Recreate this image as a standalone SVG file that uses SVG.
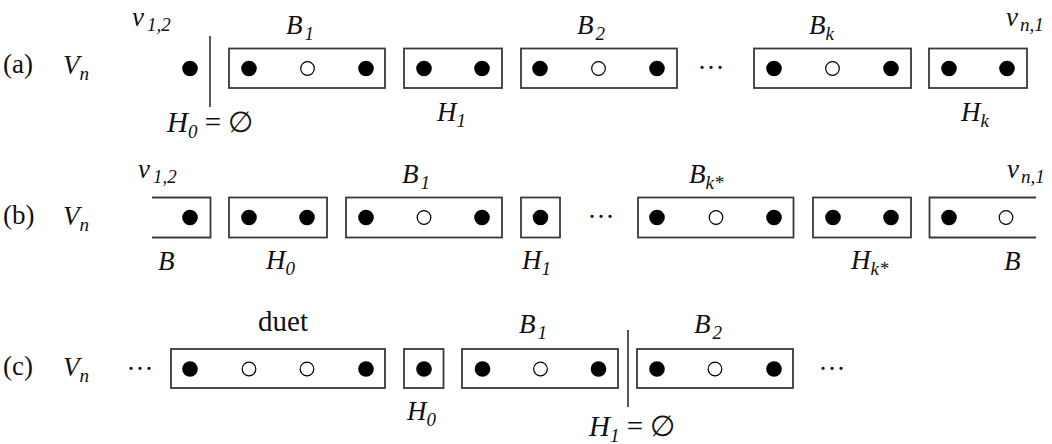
<svg xmlns="http://www.w3.org/2000/svg" width="1052" height="444" viewBox="0 0 1052 444">
<style>
.bx{fill:none;stroke:#3a3a3a;stroke-width:1.8}
.ln{fill:none;stroke:#444;stroke-width:1.8}
.f{fill:#000}
.o{fill:#fff;stroke:#000;stroke-width:1.2}
text{font-family:"Liberation Serif","DejaVu Serif",serif;font-size:27px;fill:#111}
.i{font-style:italic}
.s{font-size:19px;font-style:italic}
.u{font-style:normal}
.big{font-size:29px}
</style>
<rect width="1052" height="444" fill="#fff"/>
<g id="rowA">
  <text x="3" y="73">(a)</text>
  <text x="63" y="74" class="i">V<tspan class="s" dy="6">n</tspan></text>
  <g id="a-v12"><text x="132" y="26" class="i">v<tspan class="s" dx="3" dy="5">1,2</tspan></text><circle class="f" cx="190" cy="68.5" r="7.8"/></g>
  <g id="a-B1"><rect class="bx" x="229" y="48.5" width="156" height="39.5"/><circle class="f" cx="249" cy="68.5" r="7.8"/><circle class="o" cx="307.5" cy="68.5" r="6.8"/><circle class="f" cx="366" cy="68.5" r="7.8"/><text x="286" y="34" class="i">B<tspan class="s" dx="2" dy="6">1</tspan></text></g>
  <g id="a-H1"><rect class="bx" x="404" y="48.5" width="98" height="39.5"/><circle class="f" cx="424" cy="68.5" r="7.8"/><circle class="f" cx="482" cy="68.5" r="7.8"/><text x="437" y="121" class="i">H<tspan class="s" dy="6">1</tspan></text></g>
  <g id="a-B2"><rect class="bx" x="521" y="48.5" width="156" height="39.5"/><circle class="f" cx="540" cy="68.5" r="7.8"/><circle class="o" cx="598.5" cy="68.5" r="6.8"/><circle class="f" cx="657" cy="68.5" r="7.8"/><text x="577" y="34" class="i">B<tspan class="s" dx="2" dy="6">2</tspan></text></g>
  <text x="711" y="77" text-anchor="middle">···</text>
  <g id="a-Bk"><rect class="bx" x="754" y="48.5" width="157" height="39.5"/><circle class="f" cx="774" cy="68.5" r="7.8"/><circle class="o" cx="832.5" cy="68.5" r="6.8"/><circle class="f" cx="891" cy="68.5" r="7.8"/><text x="809" y="34" class="i">B<tspan class="s" dy="6">k</tspan></text></g>
  <g id="a-Hk"><rect class="bx" x="929" y="48.5" width="98" height="39.5"/><circle class="f" cx="949" cy="68.5" r="7.8"/><circle class="f" cx="1007" cy="68.5" r="7.8"/><text x="961" y="121" class="i">H<tspan class="s" dy="6">k</tspan></text><text x="1006" y="26" class="i">v<tspan class="s" dx="2" dy="5">n,1</tspan></text></g>
  <g id="a-H0"><text x="167" y="132" class="i big">H<tspan class="s" dy="6">0</tspan><tspan class="u" dy="-6"> = </tspan><tspan class="u">∅</tspan></text></g>
</g>
<g id="rowB">
  <text x="3" y="224">(b)</text>
  <text x="63" y="225" class="i">V<tspan class="s" dy="6">n</tspan></text>
  <g id="b-Bleft"><path class="bx" d="M152,197.5 H210.5 V237.5 H152"/><circle class="f" cx="190" cy="217.5" r="7.8"/><text x="138" y="178" class="i">v<tspan class="s" dx="3" dy="5">1,2</tspan></text><text x="158" y="270" class="i">B</text></g>
  <g id="b-H0"><rect class="bx" x="229" y="197.5" width="98" height="40"/><circle class="f" cx="249" cy="217.5" r="7.8"/><circle class="f" cx="307" cy="217.5" r="7.8"/><text x="266" y="269" class="i">H<tspan class="s" dy="6">0</tspan></text></g>
  <g id="b-B1"><rect class="bx" x="346" y="197.5" width="156" height="40"/><circle class="f" cx="366" cy="217.5" r="7.8"/><circle class="o" cx="424" cy="217.5" r="6.8"/><circle class="f" cx="482" cy="217.5" r="7.8"/><text x="402" y="183" class="i">B<tspan class="s" dx="2" dy="6">1</tspan></text></g>
  <g id="b-H1"><rect class="bx" x="521" y="197.5" width="39" height="40"/><circle class="f" cx="540.5" cy="217.5" r="7.8"/><text x="522" y="269" class="i">H<tspan class="s" dy="6">1</tspan></text></g>
  <text x="601" y="226" text-anchor="middle">···</text>
  <g id="b-Bk"><rect class="bx" x="638" y="197.5" width="155.5" height="40"/><circle class="f" cx="657" cy="217.5" r="7.8"/><circle class="o" cx="716" cy="217.5" r="6.8"/><circle class="f" cx="774" cy="217.5" r="7.8"/><text x="689" y="183" class="i">B<tspan class="s" dy="6">k*</tspan></text></g>
  <g id="b-Hk"><rect class="bx" x="813" y="197.5" width="98" height="40"/><circle class="f" cx="833" cy="217.5" r="7.8"/><circle class="f" cx="891" cy="217.5" r="7.8"/><text x="851" y="269" class="i">H<tspan class="s" dy="6">k*</tspan></text></g>
  <g id="b-Bright"><path class="bx" d="M1036,197.5 H929.5 V237.5 H1036"/><circle class="f" cx="949" cy="217.5" r="7.8"/><circle class="o" cx="1006" cy="217.5" r="6.8"/><text x="1007" y="178" class="i">v<tspan class="s" dx="2" dy="5">n,1</tspan></text><text x="1004" y="270" class="i">B</text></g>
</g>
<g id="rowC">
  <text x="3" y="375">(c)</text>
  <text x="63" y="376" class="i">V<tspan class="s" dy="6">n</tspan></text>
  <text x="140" y="378" text-anchor="middle">···</text>
  <g id="c-duet"><rect class="bx" x="171" y="349" width="214" height="39"/><circle class="f" cx="190" cy="369" r="7.8"/><circle class="o" cx="249" cy="369" r="6.8"/><circle class="o" cx="307" cy="369" r="6.8"/><circle class="f" cx="366" cy="369" r="7.8"/><text x="283" y="331" text-anchor="middle" class="big">duet</text></g>
  <g id="c-H0"><rect class="bx" x="404" y="349" width="39.5" height="39"/><circle class="f" cx="424" cy="369" r="7.8"/><text x="407" y="420" class="i">H<tspan class="s" dy="6">0</tspan></text></g>
  <g id="c-B1"><rect class="bx" x="462" y="349" width="156" height="39"/><circle class="f" cx="482.5" cy="369" r="7.8"/><circle class="o" cx="540.5" cy="369" r="6.8"/><circle class="f" cx="598.5" cy="369" r="7.8"/><text x="519" y="333" class="i">B<tspan class="s" dx="2" dy="6">1</tspan></text></g>
  <g id="c-H1"><text x="589" y="436" class="i big">H<tspan class="s" dy="6">1</tspan><tspan class="u" dy="-6"> = </tspan><tspan class="u">∅</tspan></text></g>
  <g id="c-B2"><rect class="bx" x="637" y="349" width="156" height="39"/><circle class="f" cx="657" cy="369" r="7.8"/><circle class="o" cx="715" cy="369" r="6.8"/><circle class="f" cx="774" cy="369" r="7.8"/><text x="694" y="333" class="i">B<tspan class="s" dx="2" dy="6">2</tspan></text></g>
  <text x="832" y="378" text-anchor="middle">···</text>
</g>
<g id="connectors">
  <line class="ln" x1="210" y1="36" x2="210" y2="107"/>
  <line class="ln" x1="628" y1="330" x2="628" y2="407"/>
</g>
</svg>
